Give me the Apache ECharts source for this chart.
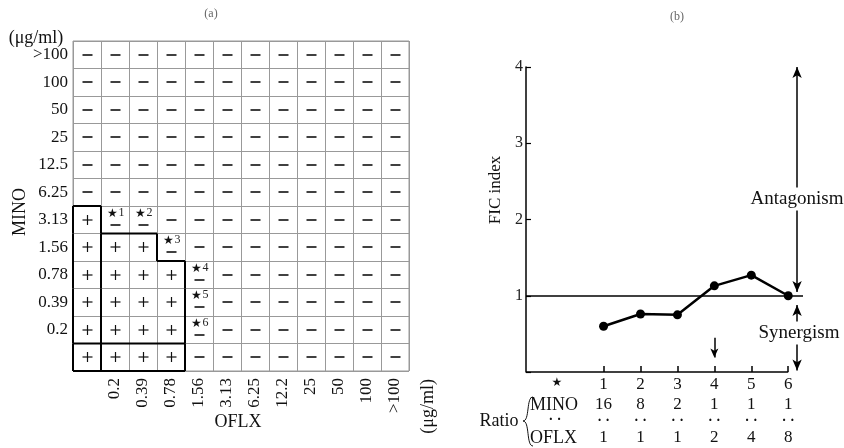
<!DOCTYPE html>
<html><head><meta charset="utf-8">
<script src="https://cdn.jsdelivr.net/npm/echarts@6/dist/echarts.min.js"></script>
<style>html,body{margin:0;padding:0;background:#fff}#c{width:844px;height:448px}</style>
</head><body><div id="c"></div>
<script>
// ---- Panel (a): checkerboard ----
const minoConc = ['>100','100','50','25','12.5','6.25','3.13','1.56','0.78','0.39','0.2',''];   // top -> bottom
const oflxConc = ['','0.2','0.39','0.78','1.56','3.13','6.25','12.2','25','50','100','>100'];    // left -> right
// growth pattern, one string per MINO row (top -> bottom), one char per OFLX column: '+' growth, '-' no growth
const growthRows = [
  '------------',
  '------------',
  '------------',
  '------------',
  '------------',
  '------------',
  '+-----------',
  '+++---------',
  '++++--------',
  '++++--------',
  '++++--------',
  '++++--------'
];
// star markers
const starNums = [1,2,3,4,5,6];
const starOflx = ['0.2','0.39','0.78','1.56','1.56','1.56'];
const starMino = ['3.13','3.13','1.56','0.78','0.39','0.2'];

// ---- Panel (b): FIC index ----
const combos = [1,2,3,4,5,6];
const ficIndex = [0.60,0.76,0.75,1.13,1.27,1.00];
const ratioMINO = [16,8,2,1,1,1];
const ratioOFLX = [1,1,1,2,4,8];
const ficTicks = [0,1,2,3,4];

const FONT = 'Liberation Serif';
const chart = echarts.init(document.getElementById('c'), null, {renderer:'canvas'});

const isPlus = (c, r) => r >= 0 && r < growthRows.length && c >= 0 && c < oflxConc.length && growthRows[r][c] === '+';
const cellData = [];
growthRows.forEach((row, r) => { for (let c = 0; c < row.length; c++) cellData.push([c, r, row[c]]); });
const starMap = {};
starNums.forEach((n, i) => { starMap[oflxConc.indexOf(starOflx[i]) + '_' + minoConc.indexOf(starMino[i])] = n; });

function renderCell(params, api) {
  const c = api.value(0), r = api.value(1);
  const p = api.coord([c, r]);
  const s = api.size([1, 1]);
  const w = s[0], h = s[1];
  const x0 = p[0] - w / 2, x1 = p[0] + w / 2, y0 = p[1] - h / 2, y1 = p[1] + h / 2;
  const children = [];
  const plus = isPlus(c, r);
  const star = starMap[c + '_' + r];
  const mk = {stroke:'#111', lineWidth:1.6};
  const cx = Math.round(p[0]) + 0.5, cy = Math.round(p[1]);
  if (star) {
    children.push({type:'text', style:{text:'★', x:cx-3, y:cy-6, align:'center', verticalAlign:'middle', font:'12px "DejaVu Sans"', fill:'#111'}});
    children.push({type:'text', style:{text:String(star), x:cx+3, y:cy-7, align:'left', verticalAlign:'middle', font:'12px "' + FONT + '"', fill:'#222'}});
    children.push({type:'line', shape:{x1:cx-5, y1:cy+5, x2:cx+5, y2:cy+5}, style:mk});
  } else if (plus) {
    children.push({type:'line', shape:{x1:cx-5, y1:cy, x2:cx+5, y2:cy}, style:{stroke:'#111', lineWidth:1.2}});
    children.push({type:'line', shape:{x1:cx, y1:cy-5, x2:cx, y2:cy+5}, style:{stroke:'#111', lineWidth:1.2}});
  } else {
    children.push({type:'line', shape:{x1:cx-5, y1:cy, x2:cx+5, y2:cy}, style:mk});
  }
  if (plus) {
    const st = {stroke:'#000', lineWidth:2};
    if (!isPlus(c - 1, r)) children.push({type:'line', shape:{x1:x0, y1:y0, x2:x0, y2:y1}, style:st});
    if (!isPlus(c + 1, r) || c === 0) children.push({type:'line', shape:{x1:x1, y1:y0, x2:x1, y2:y1}, style:st});
    if (!isPlus(c, r - 1) || r === growthRows.length - 1) children.push({type:'line', shape:{x1:x0, y1:y0, x2:x1, y2:y0}, style:st});
    if (!isPlus(c, r + 1)) children.push({type:'line', shape:{x1:x0, y1:y1, x2:x1, y2:y1}, style:st});
  }
  return {type:'group', children};
}

const txt = (t, x, y, size, extra) => Object.assign({type:'text', z:100, style:Object.assign({text:t, x, y, font: size + 'px "' + FONT + '"', fill:'#111', align:'center', verticalAlign:'middle'}, extra && extra.style || {})}, extra && extra.el || {});

const lastCombo = combos[combos.length - 1];
const option = {
  animation: false,
  textStyle: {fontFamily: FONT},
  grid: [
    {left:73, top:41, width:336, height:330, show:true, borderColor:'#999', borderWidth:1},
    {left:526, top:67, width:277, height:305}
  ],
  xAxis: [
    {gridIndex:0, type:'category', data:oflxConc, position:'bottom',
     axisLine:{show:false}, axisTick:{show:false},
     splitLine:{show:true, interval:0, lineStyle:{color:'#999', width:1}},
     axisLabel:{rotate:90, margin:7, fontSize:17, color:'#111', fontFamily:FONT, interval:0}},
    {gridIndex:1, type:'value', min:-1.1, max:6.4,
     axisLine:{show:false}, splitLine:{show:false},
     axisTick:{show:true, inside:true, length:6, customValues:combos, lineStyle:{color:'#000', width:1.5}},
     axisLabel:{show:true, customValues:combos, margin:2, color:'#111', fontFamily:FONT,
       formatter: v => { const i = combos.indexOf(v); return i < 0 ? '' : '{a|' + combos[i] + '}\n{b|' + ratioMINO[i] + '}\n{c|· ·}\n{d|' + ratioOFLX[i] + '}'; },
       rich:{a:{fontSize:17, lineHeight:22, fontFamily:FONT}, b:{fontSize:17, lineHeight:18, fontFamily:FONT}, c:{fontSize:14, lineHeight:14, fontFamily:FONT, fontWeight:'bold'}, d:{fontSize:17, lineHeight:20, fontFamily:FONT}}}}
  ],
  yAxis: [
    {gridIndex:0, type:'category', data:minoConc, inverse:true,
     axisLine:{show:false}, axisTick:{show:false},
     splitLine:{show:true, interval:0, lineStyle:{color:'#999', width:1}},
     axisLabel:{margin:5, fontSize:17, color:'#111', fontFamily:FONT, interval:0}},
    {gridIndex:1, type:'value', min:ficTicks[0], max:ficTicks[ficTicks.length-1], interval:1,
     axisLine:{show:true, onZero:false, lineStyle:{color:'#000', width:1.5}},
     axisTick:{show:true, inside:true, length:5, lineStyle:{color:'#000', width:1.2}},
     splitLine:{show:false},
     axisLabel:{margin:3, fontSize:16, color:'#222', fontFamily:FONT, formatter: v => v === 0 ? '' : String(v)}}
  ],
  series: [
    {type:'custom', xAxisIndex:0, yAxisIndex:0, data:cellData, renderItem:renderCell, silent:true, z:5},
    {type:'line', xAxisIndex:1, yAxisIndex:1, data:combos.map((c, i) => [c, ficIndex[i]]),
     symbol:'circle', symbolSize:9, itemStyle:{color:'#000'}, lineStyle:{color:'#000', width:2.5}, z:10, silent:true},
    {type:'line', xAxisIndex:1, yAxisIndex:1, data:[], clip:false, silent:true,
     markLine:{silent:true, animation:false, label:{show:false}, emphasis:{disabled:true},
       symbol:['none','none'],
       lineStyle:{color:'#000', width:1.5, type:'solid'},
       data:[
         [{coord:[-1.1, 0], symbol:'none'}, {coord:[lastCombo, 0], symbol:'none'}],
         {yAxis:1},
         [{coord:[6.24, 1.05], symbol:'arrow', symbolSize:[7,11]}, {coord:[6.24, 4.0], symbol:'arrow', symbolSize:[7,11]}],
         [{coord:[6.24, 0.88], symbol:'arrow', symbolSize:[7,11]}, {coord:[6.24, 0.02], symbol:'arrow', symbolSize:[7,11]}],
         [{coord:[4, 0.45], symbol:'none'}, {coord:[4, 0.19], symbol:'arrow', symbolSize:[6,9]}]
       ]}}
  ],
  graphic: [
    txt('(a)', 211, 14, 12, {style:{fill:'#666'}}),
    txt('(b)', 677, 17, 12, {style:{fill:'#666'}}),
    txt('(μg/ml)', 36, 38, 18),
    txt('MINO', 20, 212, 18, {el:{rotation:Math.PI/2, x:20, y:212}, style:{x:0, y:0}}),
    txt('OFLX', 238, 422, 18),
    txt('(μg/ml)', 428, 379, 18, {el:{rotation:Math.PI/2, x:428, y:379}, style:{x:0, y:0, align:'right'}}),
    txt('FIC index', 496, 190, 17, {el:{rotation:Math.PI/2, x:496, y:190}, style:{x:0, y:0}}),
    txt('Antagonism', 797, 199, 19, {style:{backgroundColor:'#fff', padding:[2,0]}}),
    txt('Synergism', 799, 333, 19, {style:{backgroundColor:'#fff', padding:[2,0]}}),
    txt('★', 557, 383, 12, {style:{font:'12px "DejaVu Sans"'}}),
    txt('MINO', 530, 405, 18, {style:{align:'left'}}),
    txt('· ·', 555, 420, 14, {style:{font:'bold 14px "' + FONT + '"'}}),
    txt('OFLX', 530, 438, 18, {style:{align:'left'}}),
    txt('Ratio', 499, 421, 18),
    {type:'bezierCurve', z:100, shape:{x1:533, y1:397, cpx1:526, cpy1:397, cpx2:530, cpy2:421, x2:523, y2:421}, style:{stroke:'#111', lineWidth:1, fill:null}},
    {type:'bezierCurve', z:100, shape:{x1:523, y1:421, cpx1:530, cpy1:421, cpx2:526, cpy2:446, x2:533, y2:446}, style:{stroke:'#111', lineWidth:1, fill:null}}
  ]
};
chart.setOption(option);
</script></body></html>
